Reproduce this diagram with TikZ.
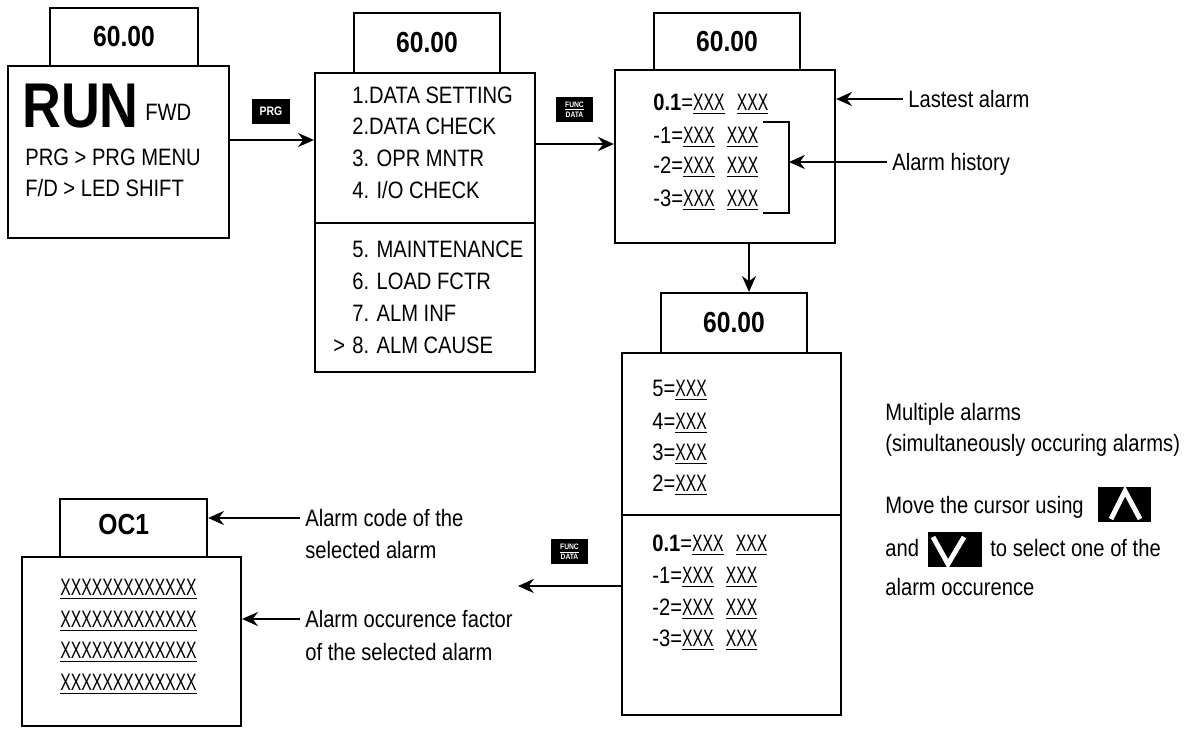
\documentclass[tikz,border=0pt]{standalone}
\usepackage{graphicx}
\usepackage{fontspec}
\setmainfont{Liberation Sans}[FakeStretch=0.85]
\usetikzlibrary{arrows.meta}
\newcommand\ux[1]{\underline{\scalebox{0.78}[1]{#1}}}

\begin{document}
\begin{tikzpicture}[x=0.02cm, y=-0.02cm,
  box/.style={draw, line width=1.3pt, inner sep=0pt},
  topbox/.style={box, font=\bfseries\fontsize{16.5}{19}\selectfont},
  txt/.style={anchor=west, inner sep=0pt, text height=9.6pt, text depth=0pt, font=\fontsize{13.5}{16}\selectfont},
  key/.style={fill=black, text=white, inner sep=0pt, align=center},
  arr/.style={-{Stealth[length=9pt,width=8pt]}, line width=1.1pt}]
\useasboundingbox (0,0) rectangle (1189,728);

% operation screen
\node[topbox, minimum width=2.96cm, minimum height=1.16cm] (top1) at (124,37) {60.00};
\node[box, minimum width=4.42cm, minimum height=3.44cm] (main1) at (118.5,152) {};
\node[txt, text height=25.8pt, font=\bfseries\fontsize{36}{40}\selectfont] (run) at (22,104.5) {RUN};
\node[txt] (fwd) at (145,112.5) {FWD};
\node[txt] (prgmenu) at (25,157) {PRG > PRG MENU};
\node[txt] (ledshift) at (25,188) {F/D > LED SHIFT};

% menu screen
\node[topbox, minimum width=2.92cm, minimum height=1.2cm] (top2) at (427,43) {60.00};
\node[box, minimum width=4.4cm, minimum height=5.98cm] (main2) at (425,222.5) {};
\draw[line width=1.3pt] (main2.west |- 0,223) -- (main2.east |- 0,223);
\node[txt] (m1) at (352,95) {1.DATA SETTING};
\node[txt] (m2) at (352,126) {2.DATA CHECK};
\node[txt] (m3) at (352,158) {3. OPR MNTR};
\node[txt] (m4) at (352,190) {4. I/O CHECK};
\node[txt] (m5) at (352,249) {5. MAINTENANCE};
\node[txt] (m6) at (352,281) {6. LOAD FCTR};
\node[txt] (m7) at (352,313) {7. ALM INF};
\node[txt] (m8) at (352,345) {8. ALM CAUSE};
\node[txt] (cursor) at (333,345) {>};

% alarm history screen
\node[topbox, minimum width=2.92cm, minimum height=1.14cm] (top3) at (727,41.5) {60.00};
\node[box, minimum width=4.4cm, minimum height=3.46cm] (main3) at (725,156.5) {};
\node[txt] (h0) at (653,102) {\textbf{0.1}=\ux{XXX}\hspace{7pt}\ux{XXX}};
\node[txt] (h1) at (653,135) {-1=\ux{XXX}\hspace{7pt}\ux{XXX}};
\node[txt] (h2) at (653,165) {-2=\ux{XXX}\hspace{7pt}\ux{XXX}};
\node[txt] (h3) at (653,198) {-3=\ux{XXX}\hspace{7pt}\ux{XXX}};
\draw[line width=1.3pt] (763,122) -- (789,122) -- (789,213) -- (763,213);
\coordinate (brk) at (789,162);
\node[txt] (lastest) at (908,99) {Lastest alarm};
\node[txt] (history) at (892,162) {Alarm history};

% multiple alarm screen
\node[topbox, minimum width=2.92cm, minimum height=1.2cm] (top4) at (734,323) {60.00};
\node[box, minimum width=4.38cm, minimum height=7.24cm] (main4) at (731.5,534) {};
\draw[line width=1.3pt] (main4.west |- 0,515) -- (main4.east |- 0,515);
\node[txt] (s5) at (652,388) {5=\ux{XXX}};
\node[txt] (s4) at (652,421) {4=\ux{XXX}};
\node[txt] (s3) at (652,452) {3=\ux{XXX}};
\node[txt] (s2) at (652,483) {2=\ux{XXX}};
\node[txt] (t0) at (652,543) {\textbf{0.1}=\ux{XXX}\hspace{7pt}\ux{XXX}};
\node[txt] (t1) at (652,575) {-1=\ux{XXX}\hspace{7pt}\ux{XXX}};
\node[txt] (t2) at (652,607) {-2=\ux{XXX}\hspace{7pt}\ux{XXX}};
\node[txt] (t3) at (652,638) {-3=\ux{XXX}\hspace{7pt}\ux{XXX}};

% notes on the right
\node[txt] (multi1) at (885,412) {Multiple alarms};
\node[txt] (multi2) at (885,443) {(simultaneously occuring alarms)};
\node[txt] (move1) at (885,505) {Move the cursor using};
\node[txt] (move2) at (885,548) {and};
\node[txt] (move3) at (990,548) {to select one of the};
\node[txt] (move4) at (885,587) {alarm occurence};
\node[key, minimum width=1.06cm, minimum height=0.7cm] (up) at (1124.5,504.5) {};
\node[key, minimum width=1.08cm, minimum height=0.7cm] (dn) at (955,549.5) {};
\draw[white, line width=2.8pt] (1111,519) -- (1125,491) -- (1140,519);
\draw[white, line width=2.8pt] (933,537) -- (948,564) -- (964,537);

% alarm cause screen
\node[box, minimum width=2.94cm, minimum height=1.16cm] (top5) at (133.5,528) {};
\node[txt, text height=11.5pt, font=\bfseries\fontsize{16.5}{19}\selectfont] (oc) at (98,524) {OC1};
\node[box, minimum width=4.38cm, minimum height=3.38cm] (main5) at (131.5,641.5) {};
\node[txt] (f1) at (60,587) {\ux{XXXXXXXXXXXXX}};
\node[txt] (f2) at (60,619) {\ux{XXXXXXXXXXXXX}};
\node[txt] (f3) at (60,650) {\ux{XXXXXXXXXXXXX}};
\node[txt] (f4) at (60,682) {\ux{XXXXXXXXXXXXX}};
\node[txt] (code1) at (305,518) {Alarm code of the};
\node[txt] (code2) at (305,550) {selected alarm};
\node[txt] (fact1) at (305,619) {Alarm occurence factor};
\node[txt] (fact2) at (305,652) {of the selected alarm};

% keys
\node[key, minimum width=0.76cm, minimum height=0.5cm, font=\bfseries\fontsize{7}{8}\selectfont] (prg) at (271,111.5) {PRG};
\node[key, minimum width=0.74cm, minimum height=0.5cm, font=\bfseries\fontsize{4.5}{5}\selectfont] (fd1) at (574.5,109.5) {\underline{FUNC}\\[-0.5pt]DATA};
\node[key, minimum width=0.74cm, minimum height=0.5cm, font=\bfseries\fontsize{4.5}{5}\selectfont] (fd2) at (569.5,551.5) {\underline{FUNC}\\[-0.5pt]DATA};
\coordinate (toleft) at (518,586);

% connectors
\draw[arr] (main1.east |- 0,140) -- (main2.west |- 0,140);
\draw[arr] (main2.east |- 0,144) -- (main3.west |- 0,144);
\draw[arr] ([xshift=0.48cm]main3.south) -- ([xshift=0.3cm]top4.north);
\draw[arr] (main4.west |- 0,586) -- (toleft);
\draw[arr] ([xshift=-3pt]lastest.west) -- (main3.east |- lastest.west);
\draw[arr] ([xshift=-3pt]history.west) -- (brk);
\draw[arr] ([xshift=-3pt]code1.west) -- (top5.east |- code1.west);
\draw[arr] ([xshift=-3pt]fact1.west) -- (main5.east |- fact1.west);
\end{tikzpicture}
\end{document}
